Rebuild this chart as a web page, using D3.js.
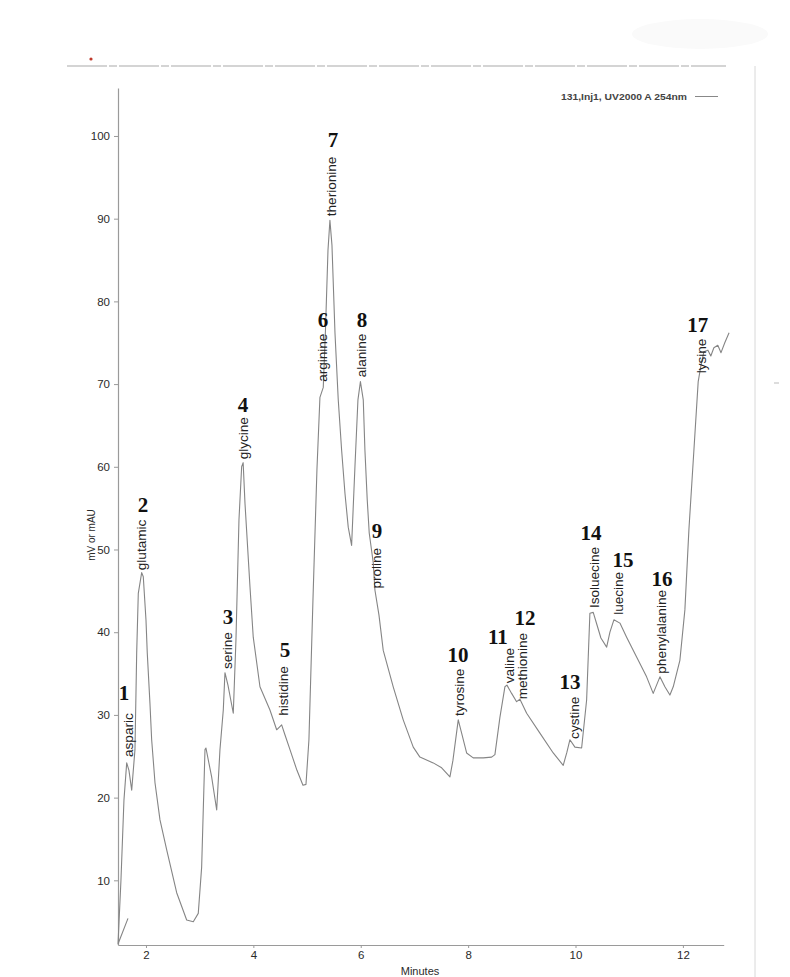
<!DOCTYPE html>
<html><head><meta charset="utf-8">
<script src="https://cdn.jsdelivr.net/npm/d3@7"></script>
<style>
html,body{margin:0;padding:0;background:#fff;}
svg{display:block;}
</style></head>
<body>
<svg id="chart" width="790" height="977"></svg>
<script>
// ---- data ----
const time = [1.665,1.479,1.534,1.590,1.641,1.683,1.734,1.795,1.827,1.857,1.920,1.950,2.000,2.024,2.074,2.106,2.168,2.261,2.385,2.572,2.758,2.881,2.974,3.037,3.099,3.117,3.223,3.317,3.378,3.440,3.471,3.527,3.626,3.676,3.732,3.782,3.810,3.844,3.937,3.998,4.123,4.309,4.434,4.527,4.588,4.682,4.812,4.924,4.980,5.035,5.110,5.184,5.240,5.302,5.343,5.390,5.426,5.464,5.520,5.581,5.644,5.706,5.767,5.830,5.892,5.948,5.994,6.047,6.078,6.121,6.158,6.233,6.264,6.339,6.419,6.605,6.791,6.978,7.102,7.350,7.507,7.661,7.717,7.816,7.879,7.972,8.095,8.281,8.438,8.499,8.592,8.685,8.723,8.810,8.903,8.965,9.090,9.337,9.585,9.771,9.840,9.896,9.989,10.114,10.207,10.268,10.330,10.399,10.473,10.580,10.641,10.715,10.827,10.952,11.138,11.324,11.447,11.572,11.665,11.758,11.820,11.944,12.037,12.112,12.205,12.285,12.335,12.390,12.466,12.520,12.577,12.650,12.710,12.780,12.860];
const signal = [5.4,2.3,10.0,19.7,24.2,23.3,20.9,25.8,37.5,44.7,47.2,46.7,41.5,37.5,31.4,27.0,21.8,17.3,13.7,8.5,5.2,5.0,6.0,11.6,25.8,26.0,22.5,18.5,25.8,30.6,35.1,33.6,30.2,39.1,53.6,60.0,60.5,55.6,45.5,39.4,33.4,30.6,28.2,28.8,27.6,25.8,23.3,21.5,21.6,27.0,43.9,59.6,68.4,69.6,76.5,86.2,89.8,86.8,76.2,68.1,62.0,56.8,52.7,50.5,60.0,68.1,70.3,68.1,62.0,56.0,52.0,48.4,45.1,42.1,37.8,33.4,29.4,26.1,24.9,24.2,23.6,22.5,24.5,29.4,27.8,25.4,24.8,24.8,24.9,25.2,29.7,33.4,33.6,32.6,31.6,31.9,30.2,27.8,25.4,23.9,25.5,27.0,26.1,26.0,31.8,42.3,42.4,40.9,39.3,38.2,40.0,41.5,41.1,39.4,37.0,34.6,32.6,34.6,33.4,32.4,33.4,36.6,42.7,52.4,62.0,70.3,72.2,73.9,74.1,73.4,74.4,74.7,73.8,75.0,76.2];

const peakNumbers = ["1","2","3","4","5","6","7","8","9","10","11","12","13","14","15","16","17"];
const peakNames = ["asparic","glutamic","serine","glycine","histidine","arginine","therionine","alanine","proline","tyrosine","valine","methionine","cystine","Isoluecine","luecine","phenylalanine","lysine"];
// annotation anchors in data units (minutes / mV)
const numTime  = [1.590,1.944,3.529,3.806,4.589,5.296,5.482,6.022,6.302,7.810,8.555,9.058,9.896,10.287,10.883,11.609,12.279];
const numValue = [32.6,55.4,41.8,67.5,37.8,77.8,99.5,77.8,52.2,37.2,39.4,41.7,34.0,52.0,48.7,46.4,77.1];
const nameTime = [1.683,1.926,3.527,3.816,4.561,5.302,5.464,6.022,6.302,7.847,8.778,9.020,9.989,10.361,10.808,11.609,12.354];
const nameValue= [30.2,53.6,40.0,66.0,35.9,76.1,97.5,76.1,50.2,35.6,38.1,39.9,32.2,50.3,47.3,45.1,75.5];

const yTicks = [10,20,30,40,50,60,70,80,90,100];
const xTicks = [2,4,6,8,10,12];
const legendLabel = "131,Inj1, UV2000 A 254nm";
const xTitle = "Minutes";
const yTitle = "mV or mAU";

// ---- drawing ----
const svg = d3.select("#chart");
const x = d3.scaleLinear().domain([1.479, 12.76]).range([118, 723.7]);
const y = d3.scaleLinear().domain([2.18, 105.8]).range([945, 88]);

// scan artefacts / frame
svg.append("ellipse").attr("cx",700).attr("cy",34).attr("rx",68).attr("ry",15).attr("fill","#fafafa");
svg.append("line").attr("x1",67).attr("x2",726).attr("y1",66).attr("y2",66)
  .attr("stroke","#a9a9a9").attr("stroke-width",1.2).attr("stroke-dasharray","40 2 8 2");
svg.append("line").attr("x1",755).attr("x2",755).attr("y1",66).attr("y2",977)
  .attr("stroke","#d8d8d8").attr("stroke-width",1);
svg.append("line").attr("x1",774).attr("x2",779).attr("y1",383).attr("y2",383)
  .attr("stroke","#bbb").attr("stroke-width",1);
svg.append("circle").attr("cx",91).attr("cy",59).attr("r",1.6).attr("fill","#c0392b");

const font = "'Liberation Sans', Arial, sans-serif";

const yAxis = svg.append("g").attr("transform","translate(118,0)")
  .call(d3.axisLeft(y).tickValues(yTicks).tickSize(4).tickSizeOuter(0).tickPadding(4));
const xAxis = svg.append("g").attr("transform","translate(0,945)")
  .call(d3.axisBottom(x).tickValues(xTicks).tickSize(3).tickSizeOuter(0).tickPadding(3));
[yAxis,xAxis].forEach(g=>{
  g.select(".domain").attr("stroke","#9a9a9a").attr("stroke-width",1.2);
  g.selectAll(".tick line").attr("stroke","#9a9a9a");
  g.selectAll("text").attr("fill","#2a2a2a").style("font-family",font).style("font-size","11.5px");
});

svg.append("text").attr("x",420).attr("y",975).attr("text-anchor","middle")
  .style("font-family",font).style("font-size","11px").attr("fill","#2a2a2a").text(xTitle);
svg.append("text").attr("transform","translate(95,535) rotate(-90)").attr("text-anchor","middle")
  .style("font-family",font).style("font-size","10px").attr("fill","#2a2a2a").text(yTitle);

// legend
svg.append("text").attr("x",687).attr("y",100).attr("text-anchor","end")
  .style("font-family",font).style("font-size","9.5px").style("font-weight","bold").attr("fill","#444")
  .attr("textLength",126).attr("lengthAdjust","spacingAndGlyphs").text(legendLabel);
svg.append("line").attr("x1",695).attr("x2",718).attr("y1",96.5).attr("y2",96.5).attr("stroke","#888").attr("stroke-width",1);

// trace
const pts = time.map((t,i)=>[t,signal[i]]);
svg.append("path").datum(pts)
  .attr("fill","none").attr("stroke","#858585").attr("stroke-width",1.1).attr("stroke-linejoin","round")
  .attr("d", d3.line().x(d=>x(d[0])).y(d=>y(d[1])));

// peak annotations
const ann = svg.append("g");
peakNumbers.forEach((n,i)=>{
  ann.append("text").attr("x",x(numTime[i])).attr("y",y(numValue[i]))
    .attr("text-anchor","middle").attr("dominant-baseline","central")
    .style("font-family","'Liberation Serif','Times New Roman',serif").style("font-weight","bold").style("font-size","21px")
    .attr("fill","#111").text(n);
  ann.append("text")
    .attr("transform",`translate(${x(nameTime[i])},${y(nameValue[i])}) rotate(-90) scale(1.13,1)`)
    .attr("text-anchor","end").attr("dy","0.35em")
    .style("font-family",font).style("font-size","12px").attr("fill","#222").text(peakNames[i]);
});
</script>
</body></html>
